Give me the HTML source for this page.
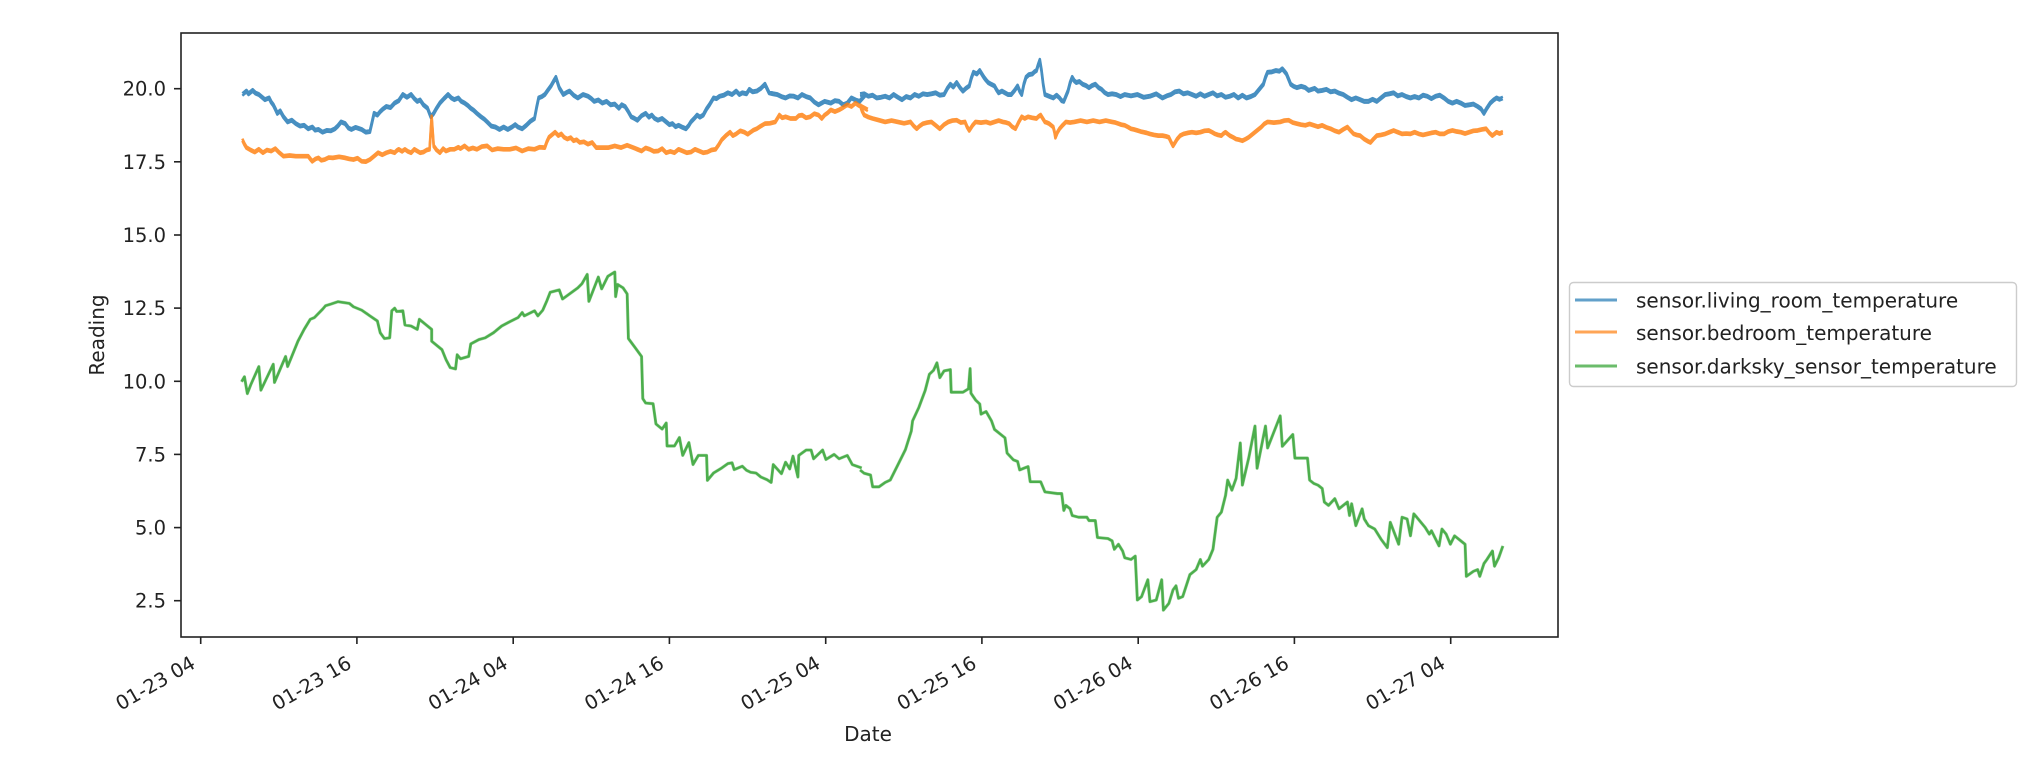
<!DOCTYPE html>
<html>
<head>
<meta charset="utf-8">
<style>
html,body{margin:0;padding:0;background:#ffffff;}
svg{display:block;}
text{font-family:"DejaVu Sans","Liberation Sans",sans-serif;fill:#222;}
</style>
</head>
<body>
<svg width="2040" height="770" viewBox="0 0 2040 770" xmlns="http://www.w3.org/2000/svg">
<defs>
<polyline id="b1" fill="none" stroke-linejoin="round" vector-effect="non-scaling-stroke"
points="30,130 40,120 45,128 55,118 62,126 70,130 78,138 85,145 95,140 100,152 105,160 110,172 115,185 122,178 130,195 140,210 150,205 160,215 170,222 180,220 190,230 200,225 207,234 215,232 225,240 235,235 245,236 255,230 262,222 270,210 280,215 288,228 295,232 305,226 320,232 330,240 340,238 345,212 350,185 358,190 365,180 372,172 380,165 390,168 400,155 410,148 420,130 430,138 440,130 448,142 455,150 462,146 470,160 480,170 488,195 495,185 502,170 510,155 520,142 530,130 538,140 545,145 555,140 562,150 570,155 578,162 585,170 592,176 600,185 610,195 618,202 625,210 635,222 645,225 655,232 665,225 675,232 685,225 693,218 700,225 710,230 720,220 730,208 740,200 745,168 750,140 758,136 765,130 772,118 780,105 786,92 792,80 800,110 810,130 818,124 825,120 835,132 845,140 858,130 870,135 878,142 885,150 895,146 905,155 915,150 925,160 935,158 945,170 952,160 960,165 968,180 975,195 983,200 990,205 1000,192 1010,185 1018,196 1025,190 1032,200 1040,205 1050,200 1060,210 1068,218 1075,215 1083,224 1090,220 1100,226 1108,230 1115,220 1120,210 1128,200 1135,190 1142,196 1150,190 1158,172 1165,160 1175,140 1182,142 1190,135 1200,132 1210,125 1220,130 1230,120 1238,130 1245,125 1255,128 1262,115 1270,122 1280,120 1290,112 1300,100 1310,125 1320,128 1330,130 1340,136 1350,140 1360,134 1370,135 1380,140 1390,130 1400,136 1410,140 1420,152 1430,160 1445,150 1460,155 1470,148 1480,150 1490,160 1500,155 1510,140 1520,146 1530,150 1545,130"/>
<polyline id="b2" fill="none" stroke-linejoin="round" vector-effect="non-scaling-stroke"
points="0,130 10,128 20,135 30,132 40,140 50,138 60,135 70,140 80,130 90,138 100,145 110,136 120,140 130,130 140,135 150,128 160,130 170,128 180,125 190,132 200,130 208,112 215,100 222,108 230,95 238,110 245,120 252,112 260,105 265,82 270,65 278,70 285,60 290,70 295,80 300,88 305,95 312,100 320,105 325,116 330,125 338,120 345,125 352,130 360,130 368,118 375,105 380,120 385,130 390,100 395,80 402,72 410,70 415,64 420,60 424,44 428,30 432,60 436,100 440,130 450,135 460,140 468,132 475,140 480,148 485,150 490,135 495,120 500,96 505,80 510,90 515,95 522,92 530,100 538,104 545,110 552,104 560,100 568,110 575,115 582,124 590,130 600,128 610,130 620,136 630,130 645,134 660,130 675,138 690,135 705,128 720,140 730,134 740,130 750,122 760,120 770,128 780,125 790,130 800,135 810,128 820,135 830,130 840,125 850,134 860,130 870,138 880,135 890,130 900,140 910,132 920,140 930,136 940,130 950,115 960,100 965,80 970,65 980,64 990,60 998,62 1005,55 1010,62 1015,70 1020,85 1025,100 1032,106 1040,110 1050,106 1060,110 1068,118 1075,115 1082,112 1090,120 1100,118 1110,115 1120,122 1130,120 1140,126 1150,130 1160,138 1170,145 1180,140 1190,145 1200,150 1210,150 1220,144 1230,150 1240,140 1250,130 1260,128 1270,125 1280,134 1290,130 1300,136 1310,140 1320,136 1330,140 1340,132 1350,135 1360,142 1370,135 1380,132 1390,140 1400,150 1410,155 1420,150 1430,155 1440,162 1450,160 1460,158 1470,165 1478,172 1485,185 1492,170 1500,155 1508,146 1515,140 1522,144 1530,140"/>
<polyline id="o1" fill="none" stroke-linejoin="round" vector-effect="non-scaling-stroke"
points="30,262 35,275 40,285 50,292 60,298 70,290 80,300 90,292 100,295 110,288 120,300 130,310 145,308 160,310 175,310 190,310 195,318 200,325 208,318 215,315 222,322 230,320 240,314 250,315 265,312 280,315 290,318 300,320 310,316 320,325 330,326 340,320 350,310 360,300 370,306 380,300 390,296 400,300 405,294 410,290 418,296 425,290 432,296 440,300 448,290 455,295 462,300 470,298 478,292 485,290 490,195 495,280 502,292 510,300 518,288 525,295 535,290 545,290 555,284 560,288 570,280 580,290 590,286 600,290 612,282 625,280 637,292 650,288 665,290 680,290 695,286 710,295 725,288 740,290 752,284 765,285 770,268 775,255 782,248 790,240 798,250 805,245 812,255 820,260 828,256 835,265 842,262 850,270 860,268 870,275 880,270 890,285 905,285 920,285 935,280 950,285 965,278 980,285 990,290 1000,295 1010,286 1020,290 1030,296 1040,295 1050,288 1060,300 1070,296 1080,300 1090,290 1100,295 1110,300 1120,298 1130,290 1140,295 1150,300 1160,298 1170,292 1180,290 1188,276 1195,262 1205,250 1215,240 1222,250 1230,245 1240,236 1250,240 1258,246 1265,240 1272,234 1280,230 1290,222 1300,215 1312,214 1325,210 1330,200 1335,190 1342,198 1350,195 1362,200 1375,200 1382,192 1390,190 1400,198 1410,195 1420,186 1430,190 1438,200 1445,190 1452,184 1460,175 1470,180 1480,175 1490,168 1500,160 1510,165 1520,155 1528,162 1535,165 1550,175"/>
<polyline id="o2" fill="none" stroke-linejoin="round" vector-effect="non-scaling-stroke"
points="0,160 5,178 10,190 20,196 30,200 45,205 60,210 75,206 90,210 105,214 120,210 128,222 135,230 142,222 150,215 160,212 170,210 180,220 190,230 200,218 210,210 220,206 230,205 240,212 250,210 255,225 260,235 268,220 275,210 288,212 300,210 310,214 320,210 330,206 340,210 348,212 355,215 362,224 370,230 378,210 385,195 392,200 400,195 410,198 420,200 425,194 430,190 435,200 440,210 445,212 450,215 455,220 460,225 463,240 465,255 470,240 475,230 482,220 490,210 500,212 510,210 525,206 540,210 555,206 570,210 585,206 600,210 608,212 615,215 622,218 630,220 638,225 645,230 652,232 660,235 668,238 675,240 682,242 690,245 700,248 710,250 720,250 728,252 735,255 740,268 745,280 750,270 755,260 762,250 770,245 780,242 790,240 800,242 810,240 820,236 830,235 838,240 845,245 852,248 860,250 865,244 870,240 875,245 880,250 888,255 895,260 902,262 910,265 918,260 925,255 932,248 940,240 948,232 955,225 962,216 970,210 985,212 1000,210 1010,206 1020,205 1030,212 1040,215 1050,218 1060,220 1070,216 1080,220 1090,224 1100,220 1110,226 1120,230 1130,236 1140,240 1150,232 1160,225 1168,236 1175,245 1182,248 1190,250 1195,255 1200,260 1208,266 1215,270 1222,260 1230,250 1240,248 1250,245 1260,240 1270,235 1280,240 1290,245 1300,244 1310,245 1320,240 1330,245 1340,248 1350,245 1360,242 1370,240 1380,245 1390,245 1400,238 1410,235 1420,238 1430,240 1440,244 1450,240 1460,236 1470,235 1480,232 1490,230 1498,242 1505,250 1510,245 1515,240 1522,244 1530,240"/>
</defs>
<rect x="0" y="0" width="2040" height="770" fill="#ffffff"/>

<!-- series: blue -->
<g stroke="#1f77b4" stroke-width="2.5" opacity="0.82">
  <g transform="translate(0,-1.2)">
    <g transform="translate(230,50) scale(0.41152,0.34247)"><use href="#b1"/></g>
    <g transform="translate(860,50) scale(0.42017,0.34247)"><use href="#b2"/></g>
  </g>
  <g transform="translate(0,1.2)">
    <g transform="translate(230,50) scale(0.41152,0.34247)"><use href="#b1"/></g>
    <g transform="translate(860,50) scale(0.42017,0.34247)"><use href="#b2"/></g>
  </g>
</g>

<!-- series: orange -->
<g stroke="#ff7f0e" stroke-width="2.5" opacity="0.82">
  <g transform="translate(0,-1.1)">
    <g transform="translate(230,50) scale(0.41152,0.34247)"><use href="#o1"/></g>
    <g transform="translate(860,50) scale(0.42017,0.34247)"><use href="#o2"/></g>
  </g>
  <g transform="translate(0,1.1)">
    <g transform="translate(230,50) scale(0.41152,0.34247)"><use href="#o1"/></g>
    <g transform="translate(860,50) scale(0.42017,0.34247)"><use href="#o2"/></g>
  </g>
</g>

<!-- series: green -->
<g opacity="0.85">
<g transform="translate(230,250) scale(0.41152,0.33784)">
<polyline fill="none" stroke="#2ca02c" stroke-width="2.8" stroke-linejoin="round" vector-effect="non-scaling-stroke"
points="28,390 35,375 42,425 50,400 70,345 75,415 105,338 108,392 135,315 140,345 165,270 180,235 195,205 205,200 225,175 232,165 245,160 262,153 290,158 300,168 320,178 340,195 358,210 365,245 375,262 388,260 393,180 400,172 405,182 420,180 425,222 440,225 455,235 460,205 475,220 490,235 490,270 515,295 525,325 535,348 548,352 552,310 560,322 580,315 585,278 605,265 620,260 640,245 660,225 680,212 700,200 710,185 715,195 740,180 748,195 760,178 770,150 778,125 800,118 808,145 825,130 845,112 855,100 868,72 872,152 895,80 903,115 918,78 935,65 937,138 942,102 955,112 965,130 968,262 985,290 1000,315 1003,440 1010,453 1028,455 1035,515 1050,530 1060,512 1062,580 1080,580 1092,555 1100,608 1115,570 1125,635 1138,608 1158,608 1160,682 1175,660 1195,645 1210,632 1220,630 1225,650 1245,640 1255,652 1265,658 1278,660 1290,672 1305,680 1315,688 1320,635 1340,662 1350,628 1360,648 1368,610 1380,672 1382,608 1400,592 1412,592 1418,618 1440,592 1448,620 1468,605 1480,618 1500,608 1512,635 1535,645"/>
</g>
<g transform="translate(860,350) scale(0.42017,0.33784)">
<polyline fill="none" stroke="#2ca02c" stroke-width="2.8" stroke-linejoin="round" vector-effect="non-scaling-stroke"
points="0,355 10,365 25,370 30,405 45,405 60,392 72,385 90,340 108,295 122,240 125,210 140,170 155,120 165,72 175,60 183,38 190,82 200,62 215,58 217,125 245,125 258,115 262,55 264,128 275,148 285,160 288,190 300,182 313,210 320,235 335,250 345,260 350,305 365,325 375,330 380,355 390,350 400,345 405,390 430,390 440,420 470,425 480,425 485,475 490,460 500,470 505,490 520,495 540,495 545,505 560,505 565,555 590,558 600,565 605,590 615,575 625,595 630,615 645,620 655,610 660,740 670,730 685,680 690,745 705,740 718,680 722,770 735,750 745,710 752,698 758,735 768,730 785,665 800,650 810,620 815,640 830,620 840,590 850,495 860,480 870,430 875,385 885,415 895,380 905,275 910,400 925,320 940,225 945,350 965,225 970,290 1000,195 1005,285 1030,250 1035,320 1065,320 1070,385 1080,395 1090,400 1100,410 1105,450 1115,460 1130,440 1140,470 1160,450 1165,490 1170,455 1180,520 1195,470 1200,500 1210,520 1225,530 1240,560 1255,585 1262,510 1282,575 1290,495 1302,500 1310,550 1318,485 1325,495 1345,525 1355,545 1360,535 1378,580 1385,530 1395,545 1405,575 1415,550 1430,565 1440,575 1443,670 1460,655 1470,650 1475,670 1485,632 1492,620 1505,595 1510,640 1520,615 1530,580"/>
</g>
</g>

<!-- axes frame -->
<rect x="181" y="33" width="1377" height="604" fill="none" stroke="#222" stroke-width="1.6"/>

<!-- y ticks -->
<g stroke="#222" stroke-width="1.6">
<line x1="174" y1="88.7" x2="181" y2="88.7"/>
<line x1="174" y1="161.8" x2="181" y2="161.8"/>
<line x1="174" y1="235.0" x2="181" y2="235.0"/>
<line x1="174" y1="308.1" x2="181" y2="308.1"/>
<line x1="174" y1="381.3" x2="181" y2="381.3"/>
<line x1="174" y1="454.4" x2="181" y2="454.4"/>
<line x1="174" y1="527.6" x2="181" y2="527.6"/>
<line x1="174" y1="600.7" x2="181" y2="600.7"/>
</g>
<g font-size="19.5" text-anchor="end">
<text x="166" y="95.7">20.0</text>
<text x="166" y="168.8">17.5</text>
<text x="166" y="242.0">15.0</text>
<text x="166" y="315.1">12.5</text>
<text x="166" y="388.3">10.0</text>
<text x="166" y="461.4">7.5</text>
<text x="166" y="534.6">5.0</text>
<text x="166" y="607.7">2.5</text>
</g>

<!-- x ticks -->
<g stroke="#222" stroke-width="1.6">
<line x1="200.7" y1="637" x2="200.7" y2="644"/>
<line x1="356.9" y1="637" x2="356.9" y2="644"/>
<line x1="513.2" y1="637" x2="513.2" y2="644"/>
<line x1="669.4" y1="637" x2="669.4" y2="644"/>
<line x1="825.7" y1="637" x2="825.7" y2="644"/>
<line x1="981.9" y1="637" x2="981.9" y2="644"/>
<line x1="1138.2" y1="637" x2="1138.2" y2="644"/>
<line x1="1294.4" y1="637" x2="1294.4" y2="644"/>
<line x1="1450.7" y1="637" x2="1450.7" y2="644"/>
</g>
<g font-size="19.5" text-anchor="end">
<text x="196.7" y="667" transform="rotate(-30 196.7 667)">01-23 04</text>
<text x="352.9" y="667" transform="rotate(-30 352.9 667)">01-23 16</text>
<text x="509.2" y="667" transform="rotate(-30 509.2 667)">01-24 04</text>
<text x="665.4" y="667" transform="rotate(-30 665.4 667)">01-24 16</text>
<text x="821.7" y="667" transform="rotate(-30 821.7 667)">01-25 04</text>
<text x="977.9" y="667" transform="rotate(-30 977.9 667)">01-25 16</text>
<text x="1134.2" y="667" transform="rotate(-30 1134.2 667)">01-26 04</text>
<text x="1290.4" y="667" transform="rotate(-30 1290.4 667)">01-26 16</text>
<text x="1446.7" y="667" transform="rotate(-30 1446.7 667)">01-27 04</text>
</g>

<!-- axis labels -->
<text x="868" y="741" font-size="20" text-anchor="middle">Date</text>
<text x="104" y="335" font-size="20" text-anchor="middle" transform="rotate(-90 104 335)">Reading</text>

<!-- legend -->
<rect x="1569.5" y="282.5" width="447" height="104" rx="4" ry="4" fill="#ffffff" fill-opacity="0.9" stroke="#cccccc" stroke-width="1.4"/>
<line x1="1575" y1="300" x2="1617" y2="300" stroke="#1f77b4" stroke-opacity="0.7" stroke-width="3"/>
<line x1="1575" y1="332" x2="1617" y2="332" stroke="#ff7f0e" stroke-opacity="0.7" stroke-width="3"/>
<line x1="1575" y1="366" x2="1617" y2="366" stroke="#2ca02c" stroke-opacity="0.7" stroke-width="3"/>
<g font-size="20">
<text x="1636" y="307.5">sensor.living_room_temperature</text>
<text x="1636" y="340">sensor.bedroom_temperature</text>
<text x="1636" y="373.5">sensor.darksky_sensor_temperature</text>
</g>
</svg>
</body>
</html>
